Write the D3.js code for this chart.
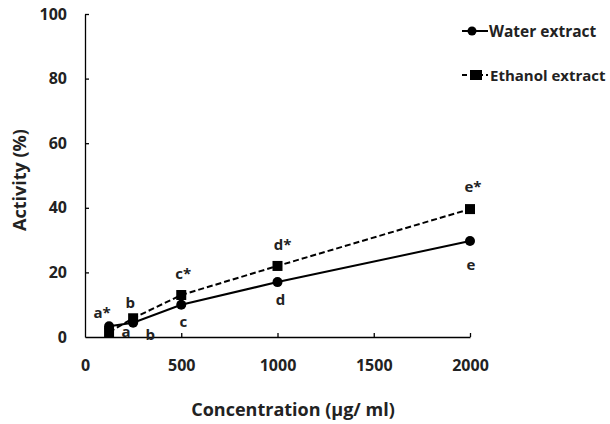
<!DOCTYPE html>
<html>
<head>
<meta charset="utf-8">
<script src="https://cdn.jsdelivr.net/npm/d3@7"></script>
<style>
  body { margin: 0; background: #fff; }
  text { font-family: "Open Sans", "Noto Sans", sans-serif; font-weight: bold; fill: #222; }
</style>
</head>
<body>
<script>
const concentrations = [125, 250, 500, 1000, 2000];
const waterValues = [3.3, 4.4, 10, 17, 29.7];
const ethanolValues = [1.5, 5.8, 13, 22, 39.6];
const waterLabels = ["a", "b", "c", "d", "e"];
const ethanolLabels = ["a*", "b", "c*", "d*", "e*"];
const xTicks = [0, 500, 1000, 1500, 2000];
const yTicks = [0, 20, 40, 60, 80, 100];

const width = 610;
const height = 424;

const svg = d3.select('body')
  .append('svg')
  .attr('width', width)
  .attr('height', height);

const x = d3.scaleLinear().domain([0, 2000]).range([85, 470]);
const y = d3.scaleLinear().domain([0, 100]).range([337, 14]);

// axes, ticks point inward
const xAxis = svg.append('g')
  .attr('transform', `translate(0,${y(0)})`)
  .call(d3.axisBottom(x).tickValues(xTicks).tickFormat(d3.format('d'))
    .tickSizeInner(-4).tickSizeOuter(0).tickPadding(23));
const yAxis = svg.append('g')
  .attr('transform', `translate(${x(0)},0)`)
  .call(d3.axisLeft(y).tickValues(yTicks).tickFormat(d3.format('d'))
    .tickSizeInner(-4).tickSizeOuter(0).tickPadding(18));

[xAxis, yAxis].forEach(a => {
  a.selectAll('.domain').attr('stroke', '#000').attr('stroke-width', 1.3);
  a.selectAll('.tick line').attr('stroke', '#000').attr('stroke-width', 1.3);
  a.selectAll('.tick text').style('font-size', '16px').attr('fill', '#222');
});
xAxis.selectAll('.tick').filter(d => d === 0).select('line').remove();
yAxis.selectAll('.tick').filter(d => d === 0).select('line').remove();

svg.append('text')
  .attr('x', 293).attr('y', 416)
  .attr('text-anchor', 'middle')
  .style('font-size', '18px')
  .text('Concentration (\u00b5g/ ml)');

svg.append('text')
  .attr('transform', 'translate(26,180) rotate(-90)')
  .attr('text-anchor', 'middle')
  .style('font-size', '18px')
  .text('Activity (%)');

const water = concentrations.map((c, i) => ({ x: c, y: waterValues[i], label: waterLabels[i] }));
const ethanol = concentrations.map((c, i) => ({ x: c, y: ethanolValues[i], label: ethanolLabels[i] }));

const line = d3.line().x(d => x(d.x)).y(d => y(d.y));

svg.append('path').datum(ethanol)
  .attr('d', line).attr('fill', 'none')
  .attr('stroke', '#000').attr('stroke-width', 2)
  .attr('stroke-dasharray', '6,3');

svg.append('path').datum(water)
  .attr('d', line).attr('fill', 'none')
  .attr('stroke', '#000').attr('stroke-width', 2);

svg.selectAll('.sq').data(ethanol).enter().append('rect')
  .attr('x', d => x(d.x) - 5).attr('y', d => y(d.y) - 5)
  .attr('width', 10).attr('height', 10).attr('fill', '#000');

svg.selectAll('.dot').data(water).enter().append('circle')
  .attr('cx', d => x(d.x)).attr('cy', d => y(d.y))
  .attr('r', 5).attr('fill', '#000');

// significance letters
const ethOffsets = [[-7, -14], [-3, -10], [2, -16], [5, -16], [3, -17]];
const watOffsets = [[17, 6], [17, 12], [2, 17], [3, 18], [1, 24]];

svg.selectAll('.elab').data(ethanol).enter().append('text')
  .attr('x', (d, i) => x(d.x) + ethOffsets[i][0])
  .attr('y', (d, i) => y(d.y) + ethOffsets[i][1])
  .attr('text-anchor', 'middle')
  .style('font-size', '15px')
  .text(d => d.label);

svg.selectAll('.wlab').data(water).enter().append('text')
  .attr('x', (d, i) => x(d.x) + watOffsets[i][0])
  .attr('y', (d, i) => y(d.y) + watOffsets[i][1] + 5)
  .attr('text-anchor', 'middle')
  .style('font-size', '15px')
  .text(d => d.label);

// legend
const lg = svg.append('g');
lg.append('line').attr('x1', 462).attr('x2', 488).attr('y1', 31).attr('y2', 31)
  .attr('stroke', '#000').attr('stroke-width', 2);
lg.append('circle').attr('cx', 472).attr('cy', 31).attr('r', 4.5).attr('fill', '#000');
lg.append('text').attr('x', 489).attr('y', 37).style('font-size', '15.5px').text('Water extract');

lg.append('line').attr('x1', 462).attr('x2', 488).attr('y1', 75).attr('y2', 75)
  .attr('stroke', '#000').attr('stroke-width', 2).attr('stroke-dasharray', '5,3');
lg.append('rect').attr('x', 470).attr('y', 70).attr('width', 12).attr('height', 10).attr('fill', '#000');
lg.append('text').attr('x', 490).attr('y', 81).style('font-size', '15px').text('Ethanol extract');
</script>
</body>
</html>
